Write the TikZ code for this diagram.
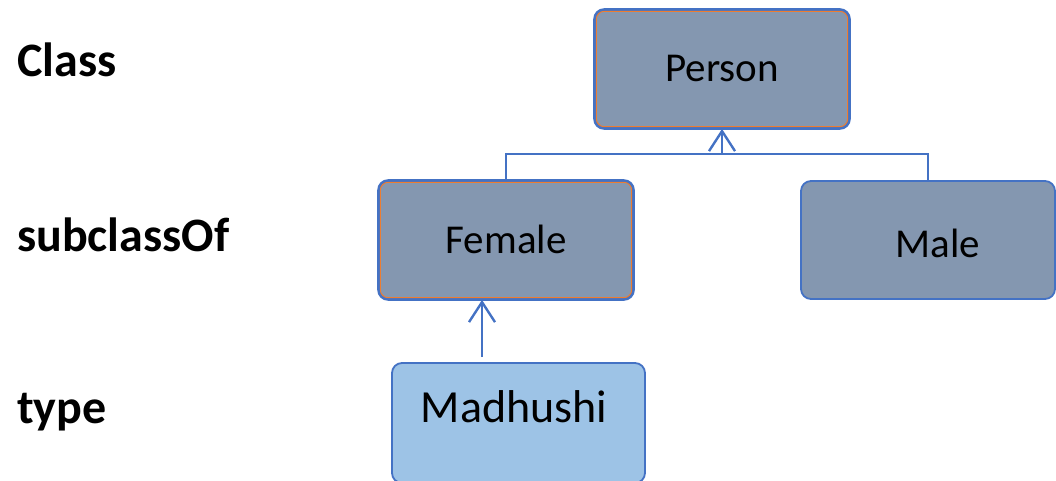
\documentclass[tikz,border=0pt]{standalone}
\usepackage{fontspec}
\setmainfont{Carlito}
\usetikzlibrary{arrows.meta}
\definecolor{edgeblue}{HTML}{4472C4}
\definecolor{classfill}{HTML}{8497B0}
\definecolor{instfill}{HTML}{9DC3E6}
\definecolor{trim}{HTML}{ED7D31}
\tikzset{
  classbox/.style={draw=edgeblue, line width=1.8pt, fill=classfill, rounded corners=10pt,
    minimum width=254pt, minimum height=118pt, inner sep=0pt},
  instbox/.style={draw=edgeblue, line width=1.8pt, fill=instfill, rounded corners=10pt,
    minimum width=253pt, minimum height=120pt, inner sep=0pt},
  boxtext/.style={anchor=base, inner sep=0pt, font=\fontsize{41pt}{41pt}\selectfont},
  levellabel/.style={anchor=base west, inner sep=0pt, font=\fontsize{48pt}{48pt}\selectfont\bfseries},
  link/.style={draw=edgeblue, line width=2pt},
  thinlink/.style={draw=edgeblue, line width=1.2pt},
  tipped/.style={link, -{Straight Barb[length=20pt,width=26pt,line width=2.4pt]}},
}
\newcommand{\trimline}[1]{%
  \draw[trim, line width=1pt, rounded corners=8pt]
    ([shift={(2.2pt,-2.2pt)}]#1.north west) rectangle ([shift={(-2.2pt,2.2pt)}]#1.south east);
  \draw[edgeblue, line width=1.8pt, rounded corners=10pt]
    (#1.north west) rectangle (#1.south east);}
\begin{document}
\begin{tikzpicture}[x=1pt,y=-1pt]
\useasboundingbox (0,0) rectangle (1056,481);

% level captions
\node[levellabel] (lvClass) at (17,77) {Class};
\node[levellabel] (lvSub) at (17,251) {subclassOf};
\node[levellabel] (lvType) at (17,423) {type};

% class nodes
\node[classbox] (person) at (722,69) {};
\trimline{person}
\node[boxtext] (personText) at (722,82) {Person};
\node[classbox] (female) at (506,240) {};
\trimline{female}
\node[boxtext] (femaleText) at (506,253) {Female};
\node[classbox] (male) at (928,240) {};
\node[boxtext] (maleText) at (938,257) {Male};

% instance node
\node[instbox] (madhushi) at (518.5,423) {};
\node[boxtext, font=\fontsize{46pt}{46pt}\selectfont] (madhushiText) at (514,422) {Madhushi};

% subclass connectors
\coordinate (join) at (722,154);
\draw[thinlink] (female.north) |- (join);
\draw[link] (male.north) |- (join);
\draw[tipped] (join) -- (person.south);

% type connector
\coordinate (typeStart) at (482,357);
\draw[tipped, line width=2.2pt] (typeStart) -- (typeStart |- female.south);
\end{tikzpicture}
\end{document}
